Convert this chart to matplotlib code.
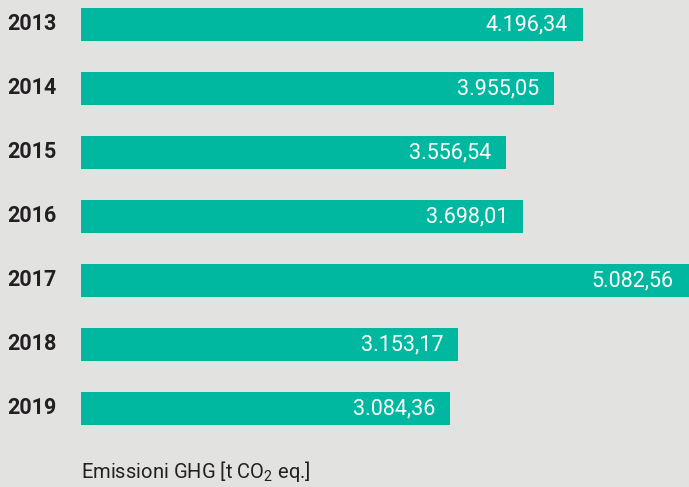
import matplotlib
matplotlib.use("Agg")
import matplotlib.pyplot as plt
from matplotlib import font_manager

years = ["2013", "2014", "2015", "2016", "2017", "2018", "2019"]
values = [4196.34, 3955.05, 3556.54, 3698.01, 5082.56, 3153.17, 3084.36]
labels = ["4.196,34", "3.955,05", "3.556,54", "3.698,01", "5.082,56", "3.153,17", "3.084,36"]
xlabel = "Emissioni GHG [t CO$_2$ eq.]"

names = {f.name for f in font_manager.fontManager.ttflist}
fam = "Liberation Sans Narrow" if "Liberation Sans Narrow" in names else "Roboto"
plt.rcParams['font.family'] = [fam, 'DejaVu Sans']
plt.rcParams['mathtext.fontset'] = 'custom'
plt.rcParams['mathtext.rm'] = fam

BG = "#e2e3e1"
BAR = "#00b8a0"
TXT = "#231f20"

fig = plt.figure(figsize=(6.89, 4.87), dpi=100, facecolor=BG)
ax = fig.add_axes([81/689, 0, 608/689, 1])
ax.set_facecolor(BG)
pos = list(range(len(years)))
ax.barh(pos, values, height=33/64, color=BAR, edgecolor='none')
ax.set_xlim(0, max(values))
ax.set_ylim((487-24.5)/64, -24.5/64)
for p, v, lab in zip(pos, values, labels):
    ax.annotate(lab, xy=(v, p), xycoords='data', xytext=(-15, 0), textcoords='offset pixels',
                ha='right', va='center', color='white', fontsize=15.5)
for p, y in zip(pos, years):
    ax.annotate(y, xy=(0, p), xycoords='data', xytext=(-24, 0), textcoords='offset pixels',
                ha='right', va='center', color=TXT, fontsize=15.5, fontweight='semibold')
for s in ax.spines.values():
    s.set_visible(False)
ax.set_xticks([]); ax.set_yticks([])
fig.text(81/689, 1 - 472/487, xlabel, ha='left', va='center', color=TXT, fontsize=14.5)
fig.savefig("out.png", dpi=100, facecolor=BG)
